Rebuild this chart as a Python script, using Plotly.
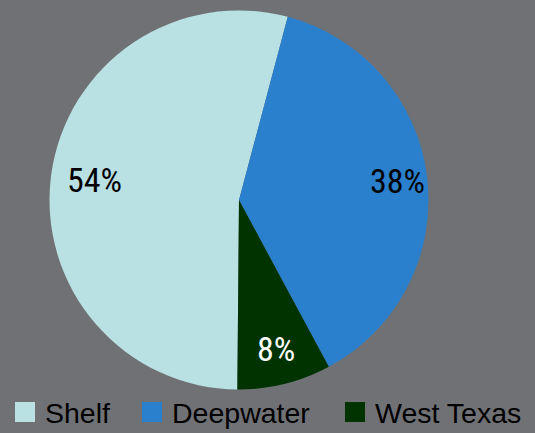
import math
import plotly.graph_objects as go

labels = ["Shelf", "Deepwater", "West Texas"]
values = [54, 38, 8]
colors = ["#B9E0E3", "#2A80CC", "#003300"]
text_colors = ["#000000", "#000000", "#FFFFFF"]
label_radius_frac = [0.77, 0.84, 0.81]   # styling: where each % label sits along its slice

W, H = 535, 433
ROT = 180.5
CX, CY, R = 239.0, 200.0, 189.5  # pie centre / radius in px

fig = go.Figure()
fig.add_trace(go.Pie(
    labels=labels,
    values=values,
    sort=False,
    direction="clockwise",
    rotation=ROT,
    marker=dict(colors=colors, line=dict(width=0)),
    textinfo="none",
    domain=dict(x=[(CX - R) / W, (CX + R) / W], y=[1 - (CY + R) / H, 1 - (CY - R) / H]),
    hoverinfo="label+percent",
    showlegend=False,
))

# percent labels placed at each slice's mid-angle (derived from the values)
total = sum(values)
start = ROT
font_lbl = "Liberation Sans Narrow, Roboto Condensed, DejaVu Sans Condensed, sans-serif"
for v, c, f in zip(values, text_colors, label_radius_frac):
    ang = start + 360 * v / total / 2
    start += 360 * v / total
    d = f * R
    px = CX + d * math.sin(math.radians(ang))
    py = CY - d * math.cos(math.radians(ang))
    fig.add_annotation(
        x=px / W, y=1 - py / H, xref="paper", yref="paper",
        text=f"{round(100 * v / total)}%", showarrow=False,
        font=dict(family=font_lbl, size=34, color=c),
        xanchor="center", yanchor="middle",
    )

# legend built from dummy square markers, one legend box per entry
legend_x = [5, 132, 335]
for i, (lab, col) in enumerate(zip(labels, colors)):
    key = "legend" if i == 0 else f"legend{i + 1}"
    fig.add_trace(go.Scatter(
        x=[None], y=[None], mode="markers", name=lab,
        marker=dict(symbol="square", size=16, color=col, line=dict(width=4, color=col)),
        legend=key, showlegend=True, hoverinfo="skip",
    ))

leg_common = dict(
    orientation="h", xanchor="left", yanchor="bottom", y=-5 / H,
    font=dict(size=28.5, color="#000000", family="Liberation Sans, Arial, sans-serif"),
    bgcolor="rgba(0,0,0,0)", borderwidth=0, itemclick=False, itemdoubleclick=False,
)

fig.update_layout(
    width=W, height=H,
    margin=dict(l=0, r=0, t=0, b=0, autoexpand=False),
    paper_bgcolor="#707175",
    plot_bgcolor="rgba(0,0,0,0)",
    xaxis=dict(visible=False),
    yaxis=dict(visible=False),
    font=dict(family="Liberation Sans, Arial, sans-serif", color="#000000"),
    legend=dict(x=legend_x[0] / W, **leg_common),
    legend2=dict(x=legend_x[1] / W, **leg_common),
    legend3=dict(x=legend_x[2] / W, **leg_common),
)

fig.write_html(
    "out.html",
    config={"displayModeBar": False},
    post_script="document.body.style.margin='0';document.body.style.overflow='hidden';",
)
